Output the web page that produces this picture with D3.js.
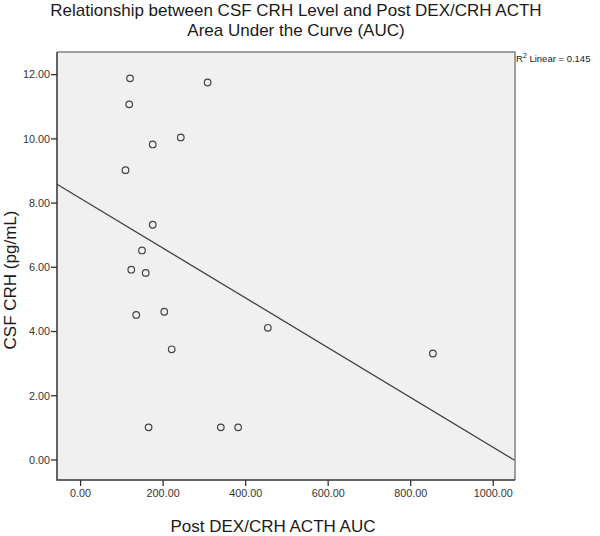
<!DOCTYPE html>
<html>
<head>
<meta charset="utf-8">
<script src="https://cdn.jsdelivr.net/npm/d3@7"></script>
<style>
  body { margin: 0; background: #fff; }
  text { font-family: "Liberation Sans", Arial, sans-serif; }
</style>
</head>
<body>
<div id="plot"></div>
<script>
// data
var acthAuc = [121, 119, 309, 244, 176, 110, 176, 150, 124, 159, 136, 204, 455, 222, 166, 341, 383, 855];
var csfCrh = [11.87, 11.06, 11.74, 10.03, 9.81, 9.01, 7.31, 6.51, 5.91, 5.81, 4.50, 4.60, 4.10, 3.43, 1.00, 1.00, 1.00, 3.30];
var xTicks = [0, 200, 400, 600, 800, 1000];
var yTicks = [0, 2, 4, 6, 8, 10, 12];
var titleLines = ["Relationship between CSF CRH Level and Post DEX/CRH ACTH", "Area Under the Curve (AUC)"];
var r2Text = "0.145"; // as printed on the chart

var svgWidth = 600;
var svgHeight = 536;

// plot frame
var plot = { left: 57, right: 515, top: 52, bottom: 480 };

var svg = d3.select("#plot")
    .append("svg")
    .attr("width", svgWidth)
    .attr("height", svgHeight);

var xScale = d3.scaleLinear()
    .domain([-56, 1054])
    .range([plot.left, plot.right]);

var yScale = d3.scaleLinear()
    .domain([-0.64, 12.69])
    .range([plot.bottom, plot.top]);

// background
svg.append("rect")
    .attr("x", plot.left)
    .attr("y", plot.top)
    .attr("width", plot.right - plot.left)
    .attr("height", plot.bottom - plot.top)
    .attr("fill", "#f0f0f0");

// least squares fit
var mx = d3.mean(acthAuc), my = d3.mean(csfCrh);
var sxy = d3.sum(acthAuc, (x, i) => (x - mx) * (csfCrh[i] - my));
var sxx = d3.sum(acthAuc, x => (x - mx) * (x - mx));
var slope = sxy / sxx;
var intercept = my - slope * mx;

var xd = xScale.domain();
svg.append("line")
    .attr("x1", xScale(xd[0]))
    .attr("y1", yScale(intercept + slope * xd[0]))
    .attr("x2", xScale(xd[1]))
    .attr("y2", yScale(intercept + slope * xd[1]))
    .attr("stroke", "#404040")
    .attr("stroke-width", 1.3);

// points
svg.selectAll("circle")
    .data(acthAuc)
    .enter()
    .append("circle")
    .attr("cx", d => xScale(d))
    .attr("cy", (d, i) => yScale(csfCrh[i]))
    .attr("r", 3.3)
    .attr("fill", "none")
    .attr("stroke", "#444")
    .attr("stroke-width", 1.2);

// axes
var bottomAxis = d3.axisBottom(xScale)
    .tickValues(xTicks)
    .tickSize(6)
    .tickSizeOuter(0)
    .tickFormat(d3.format(".2f"));
var leftAxis = d3.axisLeft(yScale)
    .tickValues(yTicks)
    .tickSize(6)
    .tickSizeOuter(0)
    .tickFormat(d3.format(".2f"));

var gx = svg.append("g")
    .attr("transform", `translate(0, ${plot.bottom})`)
    .call(bottomAxis);
var gy = svg.append("g")
    .attr("transform", `translate(${plot.left}, 0)`)
    .call(leftAxis);

[gx, gy].forEach(g => {
    g.select(".domain").remove();
    g.selectAll(".tick line").attr("stroke", "#333").attr("stroke-width", 1.3);
    g.selectAll(".tick text")
        .attr("fill", "#333")
        .style("font-size", "10.8px")
        .style("font-family", "'Liberation Sans', Arial, sans-serif");
});
gx.selectAll(".tick text").attr("y", 9);
gy.selectAll(".tick text").attr("x", -7).attr("dy", "0.35em");

// frame: top/right lighter, left/bottom darker
svg.append("path")
    .attr("d", `M${plot.left},${plot.top}H${plot.right}V${plot.bottom}`)
    .attr("fill", "none")
    .attr("stroke", "#808080")
    .attr("stroke-width", 1.5);
svg.append("path")
    .attr("d", `M${plot.left},${plot.top}V${plot.bottom}H${plot.right}`)
    .attr("fill", "none")
    .attr("stroke", "#333")
    .attr("stroke-width", 1.5);

// title
svg.append("text")
    .attr("x", 296)
    .attr("y", 15.5)
    .attr("text-anchor", "middle")
    .attr("font-size", "17px")
    .attr("fill", "#1a1a1a")
    .selectAll("tspan")
    .data(titleLines)
    .enter()
    .append("tspan")
    .attr("x", 296)
    .attr("dy", (d, i) => i === 0 ? 0 : 20.5)
    .text(d => d);

// R squared label
var r2Label = svg.append("text")
    .attr("x", 516)
    .attr("y", 62)
    .attr("font-size", "9.5px")
    .attr("fill", "#1a1a1a");
r2Label.append("tspan").text("R");
r2Label.append("tspan").attr("dy", -4).attr("font-size", "7px").text("2");
r2Label.append("tspan").attr("dy", 4).text(" Linear = " + r2Text);

// axis titles
svg.append("text")
    .attr("x", 273)
    .attr("y", 532)
    .attr("text-anchor", "middle")
    .attr("font-size", "17px")
    .attr("fill", "#1a1a1a")
    .text("Post DEX/CRH ACTH AUC");

svg.append("text")
    .attr("transform", "rotate(-90)")
    .attr("x", -280)
    .attr("y", 16)
    .attr("text-anchor", "middle")
    .attr("font-size", "17px")
    .attr("fill", "#1a1a1a")
    .text("CSF CRH (pg/mL)");
</script>
</body>
</html>
